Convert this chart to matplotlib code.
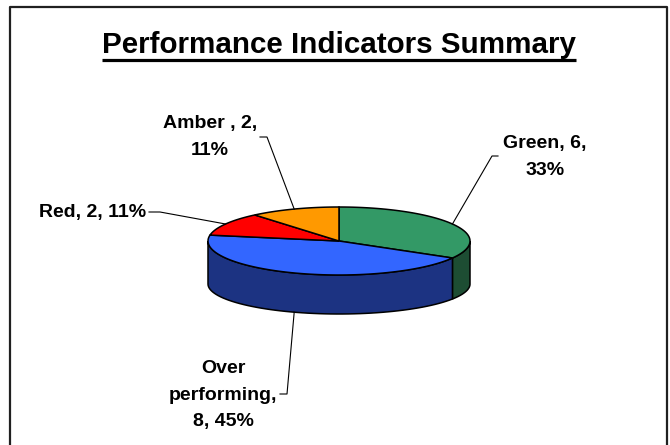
import numpy as np
import matplotlib
matplotlib.use('Agg')
import matplotlib.pyplot as plt
from matplotlib.patches import Polygon

# data, in Excel's clockwise order from 12 o'clock
names = ['Green', 'Over performing', 'Red', 'Amber']
values = [6, 8, 2, 2]
pcts = ['33%', '45%', '11%', '11%']
labels = ['Green, 6,\n33%', 'Over\nperforming,\n8, 45%', 'Red, 2, 11%', 'Amber , 2,\n11%']
top_colors = ['#339966', '#3366ff', '#ff0000', '#ff9900']
side_colors = ['#1d4d33', '#1c3382', '#800000', '#804c00']

plt.rcParams['font.family'] = ['Liberation Sans', 'DejaVu Sans']

fig = plt.figure(figsize=(6.7, 4.45), dpi=100)
ax = fig.add_axes([0, 0, 1, 1])
ax.set_xlim(0, 670)
ax.set_ylim(445, 0)
ax.axis('off')

# pie geometry (pixels)
cx, cy, rx, ry = 339, 241, 131, 34
by, bry = 284, 30      # bottom ellipse centre / minor radius (perspective)


def top_pt(a):
    return cx + rx * np.cos(a), cy - ry * np.sin(a)


def bot_pt(a):
    return cx + rx * np.cos(a), by - bry * np.sin(a)


total = float(sum(values))
angles = []
start = np.pi / 2
for v in values:
    end = start - 2 * np.pi * v / total
    angles.append((start, end))
    start = end

# side walls (only front half, angles between pi and 2pi)
for (a1, a2), col in zip(angles, side_colors):
    lo, hi = min(a1, a2), max(a1, a2)
    for shift in (-2 * np.pi, 0, 2 * np.pi):
        l, h = max(lo + shift, np.pi), min(hi + shift, 2 * np.pi)
        if h > l:
            t = np.linspace(l, h, 60)
            xs, ys = top_pt(t)
            xb, yb = bot_pt(t[::-1])
            pts = np.column_stack([np.r_[xs, xb], np.r_[ys, yb]])
            ax.add_patch(Polygon(pts, closed=True, fc=col, ec='black', lw=1.1))

# top faces
for (a1, a2), col in zip(angles, top_colors):
    t = np.linspace(a1, a2, 80)
    xs, ys = top_pt(t)
    pts = np.column_stack([np.r_[cx, xs], np.r_[cy, ys]])
    ax.add_patch(Polygon(pts, closed=True, fc=col, ec='black', lw=1.1))

# labels and leader lines
label_xy = [(545, 157), (223, 395), (93, 212), (210, 137)]
elbow = [(492, 156), (287, 394), (160, 212), (267, 137)]
stub = [(498, 156), (280, 394), (149, 212), (260, 137)]
for i, (a1, a2) in enumerate(angles):
    mid = (a1 + a2) / 2
    px, py = top_pt(mid)
    if np.sin(mid) < 0:
        px, py = bot_pt(mid)
    ax.plot([px, elbow[i][0], stub[i][0]], [py, elbow[i][1], stub[i][1]],
            color='black', lw=0.8)
    ax.text(label_xy[i][0], label_xy[i][1], labels[i], ha='center', va='center',
            fontsize=14, fontweight='bold', linespacing=1.7)

# title with underline
title = ax.text(339, 53, 'Performance Indicators Summary', ha='center', va='baseline',
                fontsize=21.3, fontweight='bold')
fig.canvas.draw()
bb = title.get_window_extent(fig.canvas.get_renderer())
ax.plot([bb.x0, bb.x1], [59.5, 59.5], color='black', lw=2.3, solid_capstyle='butt')

# chart area border
ax.plot([10, 10, 667, 667], [445, 7, 7, 445], color='#202020', lw=1.6)

fig.savefig('out.png', dpi=100)
